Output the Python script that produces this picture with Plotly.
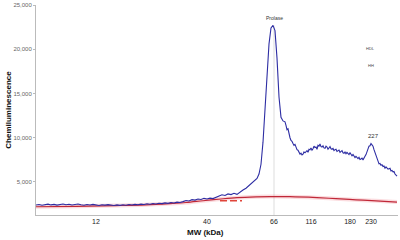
import plotly.graph_objects as go

# Tick labels (MW markers) and their migration positions
mw_labels = ["12", "40", "66", "116", "180", "230"]
mw_positions = [60, 171, 238, 275, 314, 335]

# Sample signal (blue)
sample_x = ([0, 3, 6, 9, 12, 15, 18, 21, 24, 27, 30, 33, 36, 39, 42, 45, 48, 51, 54, 57,
             60, 63, 66, 69, 72, 75, 78, 81, 84, 87, 90, 93, 96, 99, 102, 105, 108, 111, 114,
             117, 120, 123, 126, 129, 132, 135, 138, 141, 144, 147, 150, 153, 156, 159, 162,
             165, 168, 171, 174, 177, 180, 183, 186, 189, 192, 195, 198, 201, 204, 207, 210,
             213, 216, 219, 221, 223, 225, 227, 229, 231, 233, 235, 237, 239, 241, 243, 245,
             247, 249]
            + list(range(250, 362)))
sample_y = [2400, 2460, 2380, 2450, 2500, 2410, 2470, 2390, 2450, 2520, 2430, 2480, 2400,
            2460, 2510, 2420, 2380, 2450, 2400, 2470, 2390, 2350, 2430, 2390, 2440, 2370,
            2340, 2410, 2360, 2420, 2380, 2450, 2400, 2470, 2430, 2500, 2460, 2540, 2490,
            2570, 2520, 2600, 2560, 2640, 2590, 2680, 2630, 2720, 2680, 2780, 2900, 2850,
            3000, 2950, 3080, 3020, 3150, 3080, 3180, 3120, 3250, 3350, 3550, 3480, 3650,
            3580, 3720, 3600, 3900, 4100, 4300, 4600, 4850, 5100, 5400, 5900, 7000, 9500,
            12800, 16800, 20600, 22400, 22700, 22100, 19000, 14600, 12300, 11900, 11800,
            # 250-255
            11400, 10900, 11000, 10400, 10000, 9700,
            # 256-328
            9600, 9350, 9150, 9250, 8800, 8650, 8600, 8300, 8150, 8250, 8050, 8150, 8400,
            8300, 8450, 8550, 8350, 8700, 8650, 8850, 8600, 8750, 9050, 8900, 8950, 8700,
            9150, 9050, 9300, 9000, 8950, 9100, 8850, 8800, 9050, 8950, 8700, 8850, 9000,
            8750, 8700, 8800, 8550, 8650, 8700, 8450, 8500, 8600, 8350, 8450, 8550, 8300,
            8250, 8400, 8200, 8350, 8150, 8100, 8300, 8050, 7950, 8100, 7850, 7750, 7900,
            7700, 7650, 7800, 7550, 7600, 7700, 7500, 7650,
            # 329-361
            7900, 8100, 8500, 8750, 9050, 9100, 9350, 9200, 9050, 8650, 8350, 7850, 7550,
            7250, 7050, 7100, 6900, 6950, 6750, 6800, 6550, 6700, 6600, 6450, 6500, 6550,
            6250, 6300, 6150, 6200, 5900, 5800, 5650]

# Baseline fit (red)
baseline_x = [0, 40, 80, 110, 134, 150, 167, 185, 201, 220, 234, 254, 281, 300, 320, 340, 361]
baseline_y = [2200, 2250, 2330, 2420, 2560, 2680, 2880, 3080, 3230, 3320, 3350, 3340,
              3230, 3120, 2990, 2870, 2730]

# Reference dashed segment
ref_x = [184, 206]
ref_y = [2880, 2880]

peak_x = 238
peak_label = "Prolase"

fig = go.Figure()
fig.add_trace(go.Scatter(x=baseline_x, y=baseline_y, mode="lines",
                         line=dict(color="rgba(240,130,140,0.28)", width=4, shape="spline"),
                         hoverinfo="skip", showlegend=False))
fig.add_trace(go.Scatter(x=baseline_x, y=baseline_y, mode="lines",
                         line=dict(color="#c02838", width=1.2, shape="spline"),
                         showlegend=False))
fig.add_trace(go.Scatter(x=ref_x, y=ref_y, mode="lines",
                         line=dict(color="#e0453a", width=1.5, dash="7px,3px"),
                         showlegend=False))
fig.add_trace(go.Scatter(x=sample_x, y=sample_y, mode="lines",
                         line=dict(color="#2d2da3", width=1.1),
                         showlegend=False))

fig.add_shape(type="line", xref="x", yref="y", x0=peak_x, x1=peak_x,
              y0=1270, y1=max(sample_y), line=dict(color="#dddddd", width=1), layer="below")

font_family = "Liberation Sans, Arial, sans-serif"
fig.add_annotation(x=peak_x, y=max(sample_y), text=peak_label, showarrow=False,
                   yshift=7, font=dict(size=5, color="#333"))
fig.add_annotation(x=334, y=20100, text="HDL", showarrow=False, font=dict(size=4, color="#444"))
fig.add_annotation(x=335, y=18200, text="HH", showarrow=False, font=dict(size=4, color="#444"))
fig.add_annotation(x=337, y=9350, text="227", showarrow=False, yshift=8,
                   font=dict(size=6, color="#333"))
fig.add_annotation(xref="paper", yref="paper", x=0.467, y=0, yanchor="top", yshift=-11,
                   text="<b>MW (kDa)</b>", showarrow=False, font=dict(size=8, color="#111"))

fig.update_layout(
    width=400, height=240,
    margin=dict(l=36, r=2, t=5, b=25),
    paper_bgcolor="white", plot_bgcolor="white",
    font=dict(family=font_family, color="#333"),
    xaxis=dict(range=[0, 362], tickvals=mw_positions, ticktext=mw_labels,
               showgrid=False, zeroline=False, showline=True, linecolor="#bbbbbb",
               linewidth=1, ticks="", tickfont=dict(size=7, color="#222")),
    yaxis=dict(range=[1270, 25000], tickvals=[5000, 10000, 15000, 20000, 25000],
               tickformat=",", showgrid=False, zeroline=False, showline=True,
               linecolor="#bbbbbb", linewidth=1, ticks="outside", ticklen=2,
               tickcolor="#bbbbbb", tickfont=dict(size=6, color="#666"),
               title=dict(text="<b>Chemiluminescence</b>", font=dict(size=8, color="#111"),
                          standoff=0)),
)

fig.write_html("out.html")
